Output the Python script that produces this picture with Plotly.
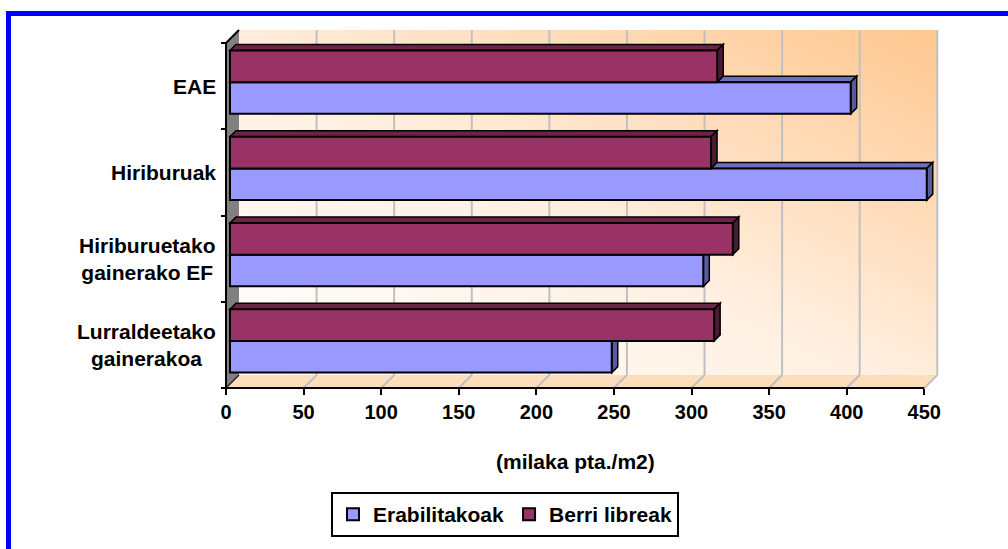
import base64
import plotly.graph_objects as go

# ---- data -------------------------------------------------------------
categories = ["EAE", "Hiriburuak", "Hiriburuetako gainerako EF", "Lurraldeetako gainerakoa"]
category_labels = ["EAE", "Hiriburuak", "Hiriburuetako<br>gainerako EF", "Lurraldeetako<br>gainerakoa"]
erabilitakoak = [400, 449, 305, 246]
berri_libreak = [314, 310, 324, 312]
x_ticks = [0, 50, 100, 150, 200, 250, 300, 350, 400, 450]
x_title = "(milaka pta./m2)"
series_names = ["Erabilitakoak", "Berri libreak"]

# ---- styling / geometry ----------------------------------------------
W, H = 1008, 549
FONT = "Liberation Sans, Arial, sans-serif"
BLUE, BLUE_TOP, BLUE_SIDE = "#9999FF", "#6E6EBE", "#5A5A9E"
RED, RED_TOP, RED_SIDE = "#993366", "#6B2347", "#4C1A33"
GRID = "#C0C0C0"

PX = 698.3 / 450.0          # pixels per x unit
PY = 86.25                  # pixels per category band
ORIGIN_X, ORIGIN_Y = 226, 388
PAD = 6
LEFT, RIGHT, TOP, BOTTOM = ORIGIN_X - PAD, 941, 27, ORIGIN_Y + PAD
PW, PH = RIGHT - LEFT, BOTTOM - TOP

NCAT = len(categories)
XMAX = x_ticks[-1]
wdx, wdy = 13 / PX, 13 / PY          # depth of the walls
bdx, bdy = 6 / PX, 6 / PY            # depth of each bar
sx, sy = 4 / PX, 4 / PY              # bar front offset inside the depth
bw = 31.7 / PY                       # bar thickness

centres = [NCAT - i - 0.5 for i in range(NCAT)]
y_red = [c + sy + bw / 2 for c in centres]
y_blue = [c + sy - bw / 2 for c in centres]


def poly(pts):
    return "M " + " L ".join(f"{x},{y}" for x, y in pts) + " Z"


shapes = []
# floor
shapes.append(dict(type="path", xref="x", yref="y", layer="between",
                   path=poly([(0, 0), (XMAX, 0), (XMAX + wdx, wdy), (wdx, wdy)]),
                   fillcolor="#FEDDBB", line=dict(width=0)))
# gridlines on the back wall and the floor
for t in x_ticks[1:]:
    shapes.append(dict(type="line", xref="x", yref="y", layer="between",
                       x0=t + wdx, y0=wdy, x1=t + wdx, y1=NCAT + wdy,
                       line=dict(color=GRID, width=2)))
    shapes.append(dict(type="line", xref="x", yref="y", layer="between",
                       x0=t, y0=0, x1=t + wdx, y1=wdy,
                       line=dict(color=GRID, width=2)))
# left side wall
shapes.append(dict(type="path", xref="x", yref="y", layer="between",
                   path=poly([(0, 0), (wdx, wdy), (wdx, NCAT + wdy), (0, NCAT)]),
                   fillcolor="#808080", line=dict(width=0)))
shapes.append(dict(type="line", xref="x", yref="y", layer="between",
                   x0=0, y0=NCAT, x1=wdx, y1=NCAT + wdy,
                   line=dict(color="black", width=2)))
shapes.append(dict(type="line", xref="x", yref="y", layer="between",
                   x0=0, y0=0, x1=wdx, y1=wdy,
                   line=dict(color="#222222", width=1.5)))


def bar_faces(values, ys, top_col, side_col):
    out = []
    for v, yc in zip(values, ys):
        x_end = sx + v
        top, bot = yc + bw / 2, yc - bw / 2
        out.append(dict(type="path", xref="x", yref="y", layer="between",
                        path=poly([(sx, top), (x_end, top), (x_end + bdx, top + bdy), (sx + bdx, top + bdy)]),
                        fillcolor=top_col, line=dict(color="black", width=1.5)))
        out.append(dict(type="path", xref="x", yref="y", layer="between",
                        path=poly([(x_end, bot), (x_end, top), (x_end + bdx, top + bdy), (x_end + bdx, bot + bdy)]),
                        fillcolor=side_col, line=dict(color="black", width=1.5)))
    return out


shapes += bar_faces(erabilitakoak, y_blue, BLUE_TOP, BLUE_SIDE)
shapes += bar_faces(berri_libreak, y_red, RED_TOP, RED_SIDE)

# front axis edges
shapes.append(dict(type="line", xref="x", yref="y", layer="above",
                   x0=0, y0=0, x1=XMAX, y1=0, line=dict(color="black", width=2)))
shapes.append(dict(type="line", xref="x", yref="y", layer="above",
                   x0=0, y0=0, x1=0, y1=NCAT, line=dict(color="black", width=2)))


def px_to_paper_x(px):
    return (px - LEFT) / PW


def px_to_paper_y(py):
    return (BOTTOM - py) / PH


# outer blue frame: only its top and left sides fall inside the page
FRAME_X, FRAME_Y = 8.5, 13.5
shapes.append(dict(type="line", xref="paper", yref="paper", layer="above",
                   x0=px_to_paper_x(FRAME_X - 2.5), x1=px_to_paper_x(W),
                   y0=px_to_paper_y(FRAME_Y), y1=px_to_paper_y(FRAME_Y),
                   line=dict(color="#0000FF", width=5)))
shapes.append(dict(type="line", xref="paper", yref="paper", layer="above",
                   x0=px_to_paper_x(FRAME_X), x1=px_to_paper_x(FRAME_X),
                   y0=px_to_paper_y(FRAME_Y - 2.5), y1=px_to_paper_y(H),
                   line=dict(color="#0000FF", width=5)))

# back wall gradient
svg = ('<svg xmlns="http://www.w3.org/2000/svg" width="200" height="100" '
       'viewBox="0 0 200 100" preserveAspectRatio="none">'
       '<defs><linearGradient id="g" x1="0" y1="1" x2="1" y2="0">'
       '<stop offset="0" stop-color="#FFFFFF"/>'
       '<stop offset="0.45" stop-color="#FFF0E2"/>'
       '<stop offset="1" stop-color="#FFC78F"/>'
       '</linearGradient></defs>'
       '<rect width="200" height="100" fill="url(#g)"/></svg>')
svg_uri = "data:image/svg+xml;base64," + base64.b64encode(svg.encode()).decode()

fig = go.Figure()
fig.add_trace(go.Bar(name=series_names[0], y=y_blue, x=erabilitakoak, base=sx,
                     orientation="h", width=bw,
                     marker=dict(color=BLUE, line=dict(color="black", width=2)),
                     customdata=categories,
                     hovertemplate="%{customdata}: %{x}<extra>" + series_names[0] + "</extra>"))
fig.add_trace(go.Bar(name=series_names[1], y=y_red, x=berri_libreak, base=sx,
                     orientation="h", width=bw,
                     marker=dict(color=RED, line=dict(color="black", width=2)),
                     customdata=categories,
                     hovertemplate="%{customdata}: %{x}<extra>" + series_names[1] + "</extra>"))

annotations = []
for lab, c in zip(category_labels, centres):
    annotations.append(dict(text=lab, xref="x", yref="y", x=0, y=c, xanchor="right",
                            yanchor="middle", xshift=-8, align="center", showarrow=False,
                            font=dict(family=FONT, size=21, color="black", weight="bold")))
annotations.append(dict(text=x_title, xref="x", yref="y", x=(x_ticks[0] + XMAX) / 2, y=0,
                        yshift=-73, xanchor="center", yanchor="middle", showarrow=False,
                        font=dict(family=FONT, size=21, color="black", weight="bold")))

fig.update_layout(
    width=W, height=H,
    margin=dict(l=LEFT, r=W - RIGHT, t=TOP, b=H - BOTTOM, autoexpand=False),
    paper_bgcolor="white", plot_bgcolor="rgba(0,0,0,0)",
    barmode="overlay",
    shapes=shapes,
    annotations=annotations,
    images=[dict(source=svg_uri, xref="x", yref="y", x=wdx, y=NCAT + wdy,
                 sizex=XMAX, sizey=NCAT, xanchor="left", yanchor="top",
                 sizing="stretch", layer="below")],
    xaxis=dict(range=[-PAD / PX, (RIGHT - ORIGIN_X) / PX], tickvals=x_ticks,
               ticks="outside", ticklen=6, tickwidth=2, tickcolor="black",
               showgrid=False, zeroline=False, showline=False,
               anchor="free", position=PAD / PH,
               tickfont=dict(family=FONT, size=20, color="black", weight="bold")),
    yaxis=dict(range=[-PAD / PY, (ORIGIN_Y - TOP) / PY], tickvals=list(range(NCAT + 1)),
               ticks="outside", ticklen=5, tickwidth=2, tickcolor="black",
               showticklabels=False, showgrid=False, zeroline=False, showline=False,
               anchor="free", position=PAD / PW),
    legend=dict(orientation="h", x=px_to_paper_x(331), y=px_to_paper_y(492),
                xanchor="left", yanchor="top", bgcolor="white",
                bordercolor="black", borderwidth=2,
                font=dict(family=FONT, size=21, color="black", weight="bold")),
    showlegend=True,
)

fig.write_html("out.html")
